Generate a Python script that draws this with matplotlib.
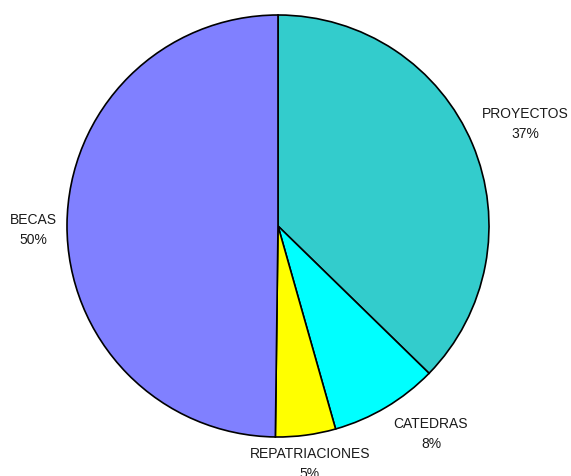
import numpy as np
import matplotlib.pyplot as plt

# Data
categories = ['PROYECTOS', 'CATEDRAS', 'REPATRIACIONES', 'BECAS']
values = [37.3, 8.3, 4.6, 49.8]
pct_labels = ['37%', '8%', '5%', '50%']
colors = ['#33CCCC', '#00FFFF', '#FFFF00', '#8080FF']

# label placement: distance from centre (in radii) and angle tweak (deg)
label_dist = [1.265, 1.225, 1.14, 1.16]
label_shift = [-0.5, 5.5, 0.0, 1.2]

plt.rcParams['font.family'] = ['Liberation Sans', 'DejaVu Sans']

fig = plt.figure(figsize=(5.71, 4.76), dpi=100)
ax = fig.add_axes([0, 0, 1, 1])

wedges, _ = ax.pie(values, colors=colors, startangle=90, counterclock=False,
                   radius=1.0, wedgeprops=dict(edgecolor='black', linewidth=1.2))

for w, name, pct, d, s in zip(wedges, categories, pct_labels, label_dist, label_shift):
    mid = np.deg2rad((w.theta1 + w.theta2) / 2 + s)
    ax.text(d * np.cos(mid), d * np.sin(mid), name + '\n' + pct,
            ha='center', va='center', fontsize=10, linespacing=1.55,
            color='#1a1a1a')

ax.set_xlim(-278 / 211, (571 - 278) / 211)
ax.set_ylim(-(476 - 226) / 211, 226 / 211)
ax.set_aspect('equal')
ax.axis('off')

fig.savefig('out.png', dpi=100)
